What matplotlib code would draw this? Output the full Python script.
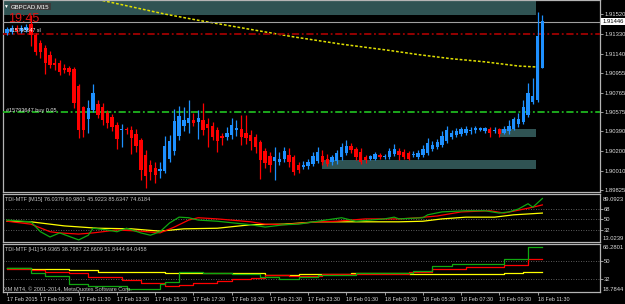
import matplotlib
matplotlib.use("Agg")
import matplotlib.pyplot as plt
import matplotlib.transforms as mtransforms
from matplotlib.patches import Rectangle

plt.rcParams["font.family"] = ["Liberation Sans", "DejaVu Sans"]

# GBPCAD M15, one bar every 15 min from 17 Feb 2015 07:45 to 18 Feb 11:45
opens = [1.9134, 1.9135, 1.9139, 1.9136, 1.9137, 1.9142, 1.9132, 1.9124, 1.9119, 1.9113,
         1.9105, 1.9105, 1.9100, 1.9100, 1.9099, 1.9083, 1.9063, 1.9051, 1.9060, 1.9065,
         1.9063, 1.9057, 1.9053, 1.9045, 1.9040, 1.9041, 1.9040, 1.9037, 1.9031, 1.9016,
         1.9007, 1.9004, 1.9001, 1.9001, 1.9013, 1.9020, 1.9035, 1.9044, 1.9047, 1.9050,
         1.9048, 1.9050, 1.9046, 1.9044, 1.9040, 1.9035, 1.9034, 1.9036, 1.9040, 1.9041,
         1.9038, 1.9036, 1.9034, 1.9029, 1.9020, 1.9015, 1.9011, 1.9010, 1.9013, 1.9016,
         1.9014, 1.9007, 1.9005, 1.9006, 1.9008, 1.9011, 1.9015, 1.9013, 1.9010, 1.9011,
         1.9014, 1.9018, 1.9025, 1.9022, 1.9019, 1.9014, 1.9013, 1.9013, 1.9016, 1.9014,
         1.9014, 1.9017, 1.9020, 1.9019, 1.9018, 1.9016, 1.9014, 1.9016, 1.9018, 1.9022,
         1.9024, 1.9026, 1.9030, 1.9034, 1.9036, 1.9037, 1.9038, 1.9039, 1.9040, 1.9040,
         1.9039, 1.9041, 1.9039, 1.9041, 1.9038, 1.9039, 1.9041, 1.9046, 1.9048, 1.9055,
         1.9067, 1.9069, 1.9100]
closes = [1.9138, 1.9139, 1.9136, 1.9139, 1.9140, 1.9132, 1.9115, 1.9115, 1.9105, 1.9103,
          1.9103, 1.9096, 1.9098, 1.9096, 1.9066, 1.9040, 1.9040, 1.9062, 1.9076, 1.9055,
          1.9050, 1.9047, 1.9043, 1.9032, 1.9041, 1.9040, 1.9033, 1.9025, 1.9002, 1.8996,
          1.9000, 1.8997, 1.9003, 1.9025, 1.9030, 1.9049, 1.9054, 1.9050, 1.9052, 1.9047,
          1.9052, 1.9040, 1.9042, 1.9034, 1.9030, 1.9033, 1.9038, 1.9045, 1.9042, 1.9034,
          1.9033, 1.9030, 1.9024, 1.9012, 1.9009, 1.9007, 1.9014, 1.9013, 1.9020, 1.9010,
          1.9000, 1.9002, 1.9007, 1.9010, 1.9015, 1.9019, 1.9010, 1.9008, 1.9014, 1.9018,
          1.9024, 1.9025, 1.9021, 1.9014, 1.9010, 1.9012, 1.9015, 1.9017, 1.9014, 1.9015,
          1.9020, 1.9022, 1.9016, 1.9014, 1.9013, 1.9017, 1.9018, 1.9022, 1.9028, 1.9026,
          1.9029, 1.9035, 1.9040, 1.9038, 1.9039, 1.9041, 1.9041, 1.9040, 1.9042, 1.9042,
          1.9042, 1.9038, 1.9040, 1.9037, 1.9041, 1.9044, 1.9051, 1.9051, 1.9063, 1.9076,
          1.9073, 1.9131, 1.9145]
highs = [1.9140, 1.9141, 1.9141, 1.9141, 1.9142, 1.9151, 1.9134, 1.9127, 1.9122, 1.9116,
         1.9110, 1.9108, 1.9104, 1.9102, 1.9101, 1.9085, 1.9064, 1.9069, 1.9085, 1.9069,
         1.9066, 1.9060, 1.9056, 1.9048, 1.9046, 1.9043, 1.9044, 1.9041, 1.9033, 1.9021,
         1.9012, 1.9010, 1.9010, 1.9035, 1.9036, 1.9061, 1.9064, 1.9063, 1.9069, 1.9057,
         1.9060, 1.9066, 1.9052, 1.9048, 1.9043, 1.9038, 1.9043, 1.9052, 1.9050, 1.9055,
         1.9055, 1.9040, 1.9037, 1.9031, 1.9023, 1.9019, 1.9024, 1.9019, 1.9024, 1.9023,
         1.9016, 1.9010, 1.9011, 1.9013, 1.9019, 1.9024, 1.9021, 1.9017, 1.9016, 1.9021,
         1.9028, 1.9031, 1.9028, 1.9024, 1.9023, 1.9016, 1.9016, 1.9019, 1.9018, 1.9017,
         1.9023, 1.9027, 1.9023, 1.9022, 1.9020, 1.9020, 1.9021, 1.9026, 1.9033, 1.9030,
         1.9032, 1.9039, 1.9044, 1.9040, 1.9042, 1.9043, 1.9044, 1.9043, 1.9044, 1.9043,
         1.9043, 1.9043, 1.9043, 1.9042, 1.9044, 1.9050, 1.9053, 1.9057, 1.9069, 1.9086,
         1.9090, 1.9154, 1.9151]
lows = [1.9132, 1.9133, 1.9134, 1.9134, 1.9135, 1.9121, 1.9113, 1.9110, 1.9094, 1.9100,
        1.9098, 1.9093, 1.9095, 1.9093, 1.9062, 1.9033, 1.9034, 1.9038, 1.9058, 1.9052,
        1.9045, 1.9042, 1.9039, 1.9022, 1.9024, 1.9037, 1.9017, 1.9019, 1.8992, 1.8985,
        1.8992, 1.8989, 1.8994, 1.8999, 1.9010, 1.9016, 1.9031, 1.9039, 1.9038, 1.9044,
        1.9032, 1.9036, 1.9024, 1.9031, 1.9019, 1.9026, 1.9031, 1.9032, 1.9035, 1.9026,
        1.9027, 1.9021, 1.9018, 1.8993, 1.9004, 1.9000, 1.8992, 1.9007, 1.9010, 1.9005,
        1.8997, 1.8999, 1.9003, 1.9003, 1.9006, 1.9009, 1.9007, 1.9006, 1.9007, 1.9008,
        1.9012, 1.9016, 1.9018, 1.9012, 1.9008, 1.9009, 1.9012, 1.9012, 1.9013, 1.9013,
        1.9013, 1.9015, 1.9012, 1.9013, 1.9012, 1.9014, 1.9013, 1.9014, 1.9016, 1.9020,
        1.9022, 1.9024, 1.9028, 1.9032, 1.9034, 1.9035, 1.9036, 1.9037, 1.9038, 1.9039,
        1.9038, 1.9034, 1.9038, 1.9034, 1.9037, 1.9037, 1.9040, 1.9043, 1.9046, 1.9053,
        1.9065, 1.9067, 1.9100]

# moving average (yellow dotted)
ma_bars = [15, 20, 26, 33, 40, 50, 60, 70, 80, 86, 93, 100, 107, 111]
ma_vals = [1.9173, 1.9165, 1.9159, 1.9152, 1.9146, 1.9138, 1.9130, 1.9123, 1.9117, 1.9113,
           1.9109, 1.9106, 1.9102, 1.9101]

# supply / demand zones
zone_start = [-1, 65.9, 102.9]
zone_end = [110.7, 110.7, 110.7]
zone_low = [1.9151, 1.9003, 1.9034]
zone_high = [1.9180, 1.9012, 1.9041]

bid_price = 1.91446
sl_price = 1.91330
buy_price = 1.90575
price_ticks = [1.91520, 1.91330, 1.91140, 1.90955, 1.90765, 1.90575, 1.90390, 1.90200,
               1.90010, 1.89825]

# TDI on M15
g1_bars = [0, 5, 7, 9, 11, 15, 17, 18, 21, 23, 25, 28, 30, 32, 34, 36, 38, 40, 44, 51,
           54, 58, 61, 65, 70, 73, 79, 81, 82, 87, 88, 91, 96, 100, 103, 105, 107, 109, 110, 112]
g1_vals = [49, 46, 29, 20, 27, 15, 23, 35, 32, 29, 35, 27, 23, 29, 44, 54, 53, 49, 47, 41,
           37, 41, 42, 47, 53, 47, 51, 54, 51, 53, 58, 63, 65, 65, 61, 63, 68, 77, 71, 86]
r1_bars = [0, 5, 9, 11, 15, 18, 23, 28, 32, 35, 38, 40, 44, 51, 54, 58, 65, 69, 75, 82,
           86, 90, 95, 101, 104, 107, 110, 112]
r1_vals = [47, 42, 29, 27, 25, 27, 32, 30, 27, 37, 49, 53, 51, 46, 42, 41, 46, 47, 51, 51,
           53, 56, 63, 65, 61, 66, 71, 75]
y1_bars = [0, 5, 9, 12, 19, 26, 32, 37, 44, 51, 58, 65, 70, 82, 87, 91, 96, 102, 106, 112]
y1_vals = [47, 46, 42, 39, 35, 34, 30, 34, 35, 41, 42, 46, 46, 46, 47, 51, 54, 54, 58, 61]

# TDI on H1 (steps)
g2_bars = [0, 5, 8, 13, 17, 25, 32, 33, 36, 41, 47, 53, 57, 61, 65, 73, 85, 89, 93, 104, 109, 112]
g2_vals = [43, 38, 35, 27, 25, 22, 27, 29, 39, 38, 37, 34, 32, 34, 36, 38, 40, 45, 47, 52, 64, 64]
r2_bars = [0, 5, 8, 13, 17, 24, 28, 33, 36, 39, 44, 47, 51, 54, 59, 66, 84, 89, 96, 104, 109, 112]
r2_vals = [42, 41, 39, 38, 34, 31, 28, 25, 26, 28, 30, 32, 33, 36, 35, 37, 39, 42, 44, 46, 52, 52]
y2_bars = [0, 5, 13, 19, 33, 54, 61, 72, 84, 104, 108, 112]
y2_vals = [43, 42, 41, 39, 38, 36, 37, 38, 37, 38, 39, 39]

time_ticks = [0, 7, 15, 23, 31, 39, 47, 55, 63, 71, 79, 87, 95, 103, 111]
time_labels = ["17 Feb 2015", "17 Feb 09:30", "17 Feb 11:30", "17 Feb 13:30", "17 Feb 15:30",
               "17 Feb 17:30", "17 Feb 19:30", "17 Feb 21:30", "17 Feb 23:30", "18 Feb 01:30",
               "18 Feb 03:30", "18 Feb 05:30", "18 Feb 07:30", "18 Feb 09:30", "18 Feb 11:30"]

bull = "#1e90ff"
bear = "#ff0000"
txt = "#dcdcdc"
W, H = 625, 304

fig = plt.figure(figsize=(W / 100, H / 100), dpi=100, facecolor="black")


def px_box(x0, y0, x1, y1):
    return [x0 / W, 1 - y1 / H, (x1 - x0) / W, (y1 - y0) / H]


ax = fig.add_axes(px_box(3, 0, 600, 192))
ax1 = fig.add_axes(px_box(3, 194, 600, 242))
ax2 = fig.add_axes(px_box(3, 244, 600, 292))

for a in (ax, ax1, ax2):
    a.set_facecolor("black")
    a.set_xlim(-0.84, 124.06)
    for s in a.spines.values():
        s.set_color("#b4b4b4")
        s.set_linewidth(0.9)
    a.yaxis.tick_right()
    a.tick_params(axis="both", colors="#b4b4b4", labelcolor=txt, labelsize=4.2,
                  length=2, width=0.6, pad=1)
    a.set_xticks([])

# --- main price panel ---
bars = list(range(len(opens)))
cols = [bull if c >= o else bear for o, c in zip(opens, closes)]
bottoms = [min(o, c) for o, c in zip(opens, closes)]
heights = [max(abs(c - o), 0.00008) for o, c in zip(opens, closes)]
ax.vlines(bars, lows, highs, colors=cols, lw=0.9, zorder=4)
ax.bar(bars, heights, bottom=bottoms, width=0.7, color=cols, lw=0, zorder=5)

for b0, b1, lo, hi in zip(zone_start, zone_end, zone_low, zone_high):
    ax.add_patch(Rectangle((b0, lo), b1 - b0, hi - lo, fc="#2f5353", ec="none", zorder=1))

ax.plot(ma_bars, ma_vals, color="#e0e000", lw=1.1, dashes=(1.8, 1.2), zorder=2)
ax.axhline(bid_price, color="#a0a0a0", lw=0.8, zorder=3)
ax.axhline(sl_price, color="#a00000", lw=1.3, dashes=(4, 1.5, 1, 1.5), zorder=3)
ax.axhline(buy_price, color="#1fb51f", lw=1.3, dashes=(4, 1.5, 1, 1.5), zorder=3)

ax.set_ylim(1.89808, 1.91655)
ax.set_yticks(price_ticks)
ax.set_yticklabels([f"{p:.5f}" for p in price_ticks])
tr = mtransforms.blended_transform_factory(ax.transAxes, ax.transData)
ax.text(1.0035, bid_price, f"{bid_price:.5f}", transform=tr, fontsize=4.2, color="black",
        va="center", ha="left", bbox=dict(fc="white", ec="none", pad=0.8), zorder=10)

# --- TDI panels ---
levels = [68, 50, 32]
for a in (ax1, ax2):
    for lv in levels:
        a.axhline(lv, color="#7a7a7a", lw=0.6, dashes=(1, 2))

ax1.plot(y1_bars, y1_vals, color="#ffff00", lw=0.9)
ax1.plot(r1_bars, r1_vals, color="#ff0000", lw=0.9)
ax1.plot(g1_bars, g1_vals, color="#10a810", lw=0.9)
ax1.set_ylim(11.4, 93.7)
ax1.set_yticks(levels)
ax1.set_yticklabels(["68", "50", "32"])
tr1 = mtransforms.blended_transform_factory(ax1.transAxes, ax1.transData)
ax1.text(1.004, 89.0923, "89.0923", transform=tr1, fontsize=4.2, color=txt, va="top")
ax1.text(1.004, 13.0239, "13.0239", transform=tr1, fontsize=4.2, color=txt, va="bottom")

ax2.plot(y2_bars, y2_vals, color="#ffff00", lw=0.9, drawstyle="steps-post")
ax2.plot(r2_bars, r2_vals, color="#ff0000", lw=0.9, drawstyle="steps-post")
ax2.plot(g2_bars, g2_vals, color="#10a810", lw=0.9, drawstyle="steps-post")
ax2.set_ylim(19, 67)
ax2.set_yticks([50, 32])
ax2.set_yticklabels(["50", "32"])
tr2 = mtransforms.blended_transform_factory(ax2.transAxes, ax2.transData)
ax2.text(1.004, 66.2801, "66.2801", transform=tr2, fontsize=4.2, color=txt, va="top")
ax2.text(1.004, 18.7844, "18.7844", transform=tr2, fontsize=4.2, color=txt, va="bottom")

ax2.set_xticks(time_ticks)
ax2.set_xticklabels(time_labels, ha="left")
ax2.tick_params(axis="x", bottom=True, length=2, pad=1.5, labelsize=3.9)

# --- chart texts ---
def put(x, y, s, **kw):
    fig.text(x / W, 1 - y / H, s, va="center", ha="left", **kw)

put(3, 6.5, "\u25bc", fontsize=3.5, color="white")
put(11, 6.5, "GBPCAD,M15", fontsize=4.3, color="white",
    bbox=dict(fc="#3a3a3a", ec="none", pad=0.8))
put(8, 19, "19:45", fontsize=9, color="#e01414")
put(9, 31, "#15793647 sl", fontsize=3.8, color="white")
put(6, 110, "#15793647 buy 0.05", fontsize=4, color="#e0e0e0")
put(5, 200, "TDI-MTF [M15] 76.0378 60.9801 45.9223 85.6347 74.6184", fontsize=4, color="#c8c8c8")
put(5, 249, "TDI-MTF [H1] 54.9365 38.7987 22.6609 51.8444 64.0458", fontsize=4, color="#c8c8c8")
put(4, 289, "XM MT4, \u00a9 2001-2014, MetaQuotes Software Corp.", fontsize=4, color="#c8c8c8")

fig.savefig("out.png", dpi=100, facecolor="black")
